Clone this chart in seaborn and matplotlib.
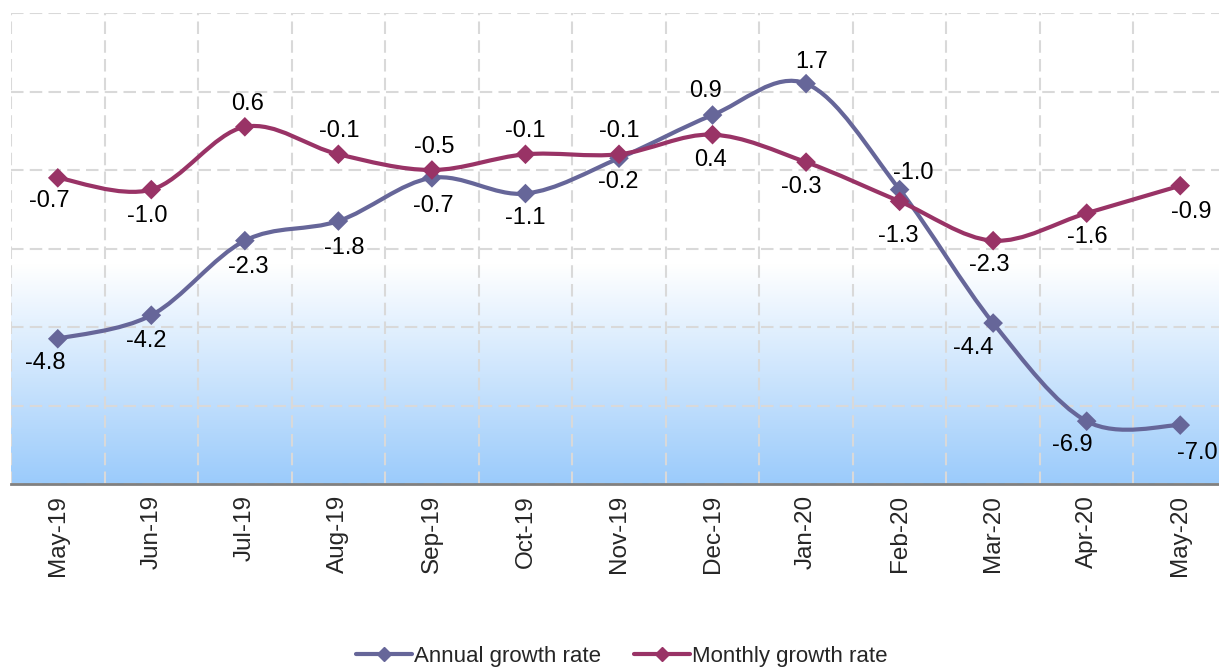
import numpy as np
import pandas as pd
import matplotlib
matplotlib.use("Agg")
import matplotlib.pyplot as plt
import seaborn as sns
from matplotlib.path import Path
from matplotlib.patches import PathPatch
from matplotlib.lines import Line2D
from matplotlib.colors import LinearSegmentedColormap

months = ['May-19', 'Jun-19', 'Jul-19', 'Aug-19', 'Sep-19', 'Oct-19', 'Nov-19',
          'Dec-19', 'Jan-20', 'Feb-20', 'Mar-20', 'Apr-20', 'May-20']
annual = [-4.8, -4.2, -2.3, -1.8, -0.7, -1.1, -0.2, 0.9, 1.7, -1.0, -4.4, -6.9, -7.0]
monthly = [-0.7, -1.0, 0.6, -0.1, -0.5, -0.1, -0.1, 0.4, -0.3, -1.3, -2.3, -1.6, -0.9]
series_names = ['Annual growth rate', 'Monthly growth rate']

# label offsets in pixels (dx, dy) relative to each point
annual_offsets = [(-13, -24), (-5, -26), (3, -26), (6, -27), (1, -28), (0, -24), (-1, -24),
                  (-7, 24), (6, 22), (14, 17), (-20, -25), (-14, -24), (17, -28)]
monthly_offsets = [(-8, -23), (-4, -26), (3, 23), (1, 23), (2, 23), (0, 23), (0, 23),
                   (-2, -25), (-5, -25), (-1, -35), (-4, -24), (1, -24), (11, -26)]

colors = ['#666699', '#993366']

df = pd.DataFrame({
    'idx': list(range(len(months))) * 2,
    'value': annual + monthly,
    'series': [series_names[0]] * len(months) + [series_names[1]] * len(months),
})

sns.set_style('white')
plt.rcParams['font.family'] = ['Liberation Sans', 'DejaVu Sans']

fig = plt.figure(figsize=(12.19, 6.72), dpi=100)
ax = fig.add_axes([11 / 1219, 1 - 484 / 672, 1216 / 1219, 471 / 672])
ax.set_xlim(-0.5, 12.5)
ax.set_ylim(-8.5, 3.5)

# blue gradient in lower band (white at top, blue at the bottom)
cmap = LinearSegmentedColormap.from_list('bg', ['#FFFFFF', '#9BCBFB'])
grad = np.linspace(0, 1, 256).reshape(-1, 1)
ax.imshow(grad, cmap=cmap, aspect='auto', extent=(-0.5, 12.5, -8.5, -2.9),
          zorder=0, interpolation='bicubic', origin='upper')


def smooth_path(ys):
    # Excel-like smoothed line through the data points (cubic Bezier segments)
    pts = np.column_stack([np.arange(len(ys)), ys]).astype(float)
    n = len(pts)
    verts = [pts[0]]
    codes = [Path.MOVETO]
    for i in range(n - 1):
        p0 = pts[max(i - 1, 0)]
        p1 = pts[i]
        p2 = pts[i + 1]
        p3 = pts[min(i + 2, n - 1)]
        c1 = p1 + (p2 - p0) / 6.0
        c2 = p2 - (p3 - p1) / 6.0
        verts += [c1, c2, p2]
        codes += [Path.CURVE4] * 3
    return Path(verts, codes)


for vals, col in zip([annual, monthly], colors):
    ax.add_patch(PathPatch(smooth_path(vals), fill=False, edgecolor=col, lw=3.0,
                           capstyle='round', joinstyle='round', zorder=3))

sns.scatterplot(data=df, x='idx', y='value', hue='series', palette=colors,
                marker='D', s=100, edgecolor='none', legend=False, zorder=4, ax=ax)

for vals, offs in [(annual, annual_offsets), (monthly, monthly_offsets)]:
    for i, (v, (dx, dy)) in enumerate(zip(vals, offs)):
        ax.annotate(f'{v:.1f}', (i, v), xytext=(dx, dy), textcoords='offset pixels',
                    ha='center', va='center', fontsize=17, color='black', zorder=5)

# axes styling
ax.set_xticks(range(len(months)))
ax.set_xticklabels(months, rotation=90, fontsize=17.5)
ax.set_xticks(np.arange(-0.5, 12.6, 1.0), minor=True)
ax.tick_params(axis='x', which='major', length=0, pad=8)
ax.tick_params(axis='x', which='minor', length=8, width=1.5, color='#808080', direction='out')
ax.set_yticks(np.arange(-8.5, 3.6, 2.0))
ax.set_yticklabels([])
ax.tick_params(axis='y', length=0)
ax.set_axisbelow(True)
ax.grid(False)
ax.grid(True, which='minor', axis='x', color='#D9D9D9', lw=1.5, linestyle=(0, (6, 3)))
ax.grid(True, which='major', axis='y', color='#D9D9D9', lw=1.5, linestyle=(0, (6, 3)))
for s in ['left', 'top', 'right']:
    ax.spines[s].set_visible(False)
ax.spines['bottom'].set_color('#808080')
ax.spines['bottom'].set_linewidth(2)
ax.set_xlabel('')
ax.set_ylabel('')

handles = [Line2D([0], [0], color=c, lw=3.0, marker='D', markersize=7, solid_capstyle='round')
           for c in colors]
fig.legend(handles, series_names, loc='lower center', bbox_to_anchor=(0.51, -0.022),
           ncol=2, frameon=False, fontsize=16, handlelength=2.5, handletextpad=0.1,
           columnspacing=1.5)

fig.savefig('out.png', dpi=100)
plt.close(fig)
